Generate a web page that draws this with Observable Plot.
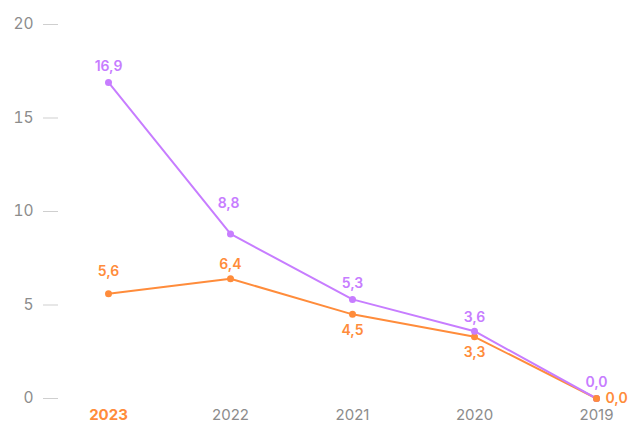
<!DOCTYPE html>
<html><head><meta charset="utf-8">
<script src="https://cdn.jsdelivr.net/npm/d3@7"></script>
<script src="https://cdn.jsdelivr.net/npm/@observablehq/plot@0.6"></script>
<style>
html,body{margin:0;padding:0;background:#fff;}
#chart{width:631px;height:425px;}
svg{font-family:Inter,"Noto Sans",sans-serif;}
</style></head>
<body><div id="chart"></div>
<script>
const years = ["2023","2022","2021","2020","2019"];
const purpleValues = [16.9, 8.8, 5.3, 3.6, 0.0];
const orangeValues = [5.6, 6.4, 4.5, 3.3, 0.0];
const yTicks = [0, 5, 10, 15, 20];

const PURPLE = "#c77dff";
const ORANGE = "#ff8c3b";
const GRAY = "#8c8c8c";
const fmt = v => v.toFixed(1).replace(".", ",");

const purple = years.map((y, i) => ({year: y, value: purpleValues[i]}));
const orange = years.map((y, i) => ({year: y, value: orangeValues[i]}));

const textStyle = {fontSize: 14, fontWeight: 600};
const lbl = d => fmt(d.value);
const xLabelStyle = {x: d => d, frameAnchor: "bottom", lineAnchor: "middle", dy: 17, fontSize: 15};

const chart = Plot.plot({
  width: 631,
  height: 425,
  marginLeft: 58,
  marginRight: 10,
  marginTop: 20,
  marginBottom: 27,
  x: {type: "point", domain: years, range: [106, 597], padding: 0, axis: null},
  y: {domain: [0, 20], range: [398, 24], axis: null},
  marks: [
    Plot.axisY(yTicks, {anchor: "left", label: null, tickSize: 15, tickPadding: 10, stroke: "#cfcfcf", fill: GRAY, fontSize: 15.5, strokeWidth: 1}),
    Plot.text(years.filter(y => y !== "2023"), {...xLabelStyle, fill: GRAY}),
    Plot.text(years.filter(y => y === "2023"), {...xLabelStyle, fill: ORANGE, fontWeight: 700}),
    Plot.line(orange, {x: "year", y: "value", stroke: ORANGE, strokeWidth: 2}),
    Plot.line(purple, {x: "year", y: "value", stroke: PURPLE, strokeWidth: 2}),
    Plot.dot(orange, {x: "year", y: "value", fill: ORANGE, r: 3.5}),
    Plot.dot(purple, {x: "year", y: "value", fill: PURPLE, r: 3.5}),
    Plot.dot(orange.filter(d => d.year === "2019"), {x: "year", y: "value", fill: ORANGE, r: 3.5}),
    Plot.text(purple.filter(d => d.year !== "2022" && d.year !== "2020"), {x: "year", y: "value", text: lbl, fill: PURPLE, dy: -16, ...textStyle}),
    Plot.text(purple.filter(d => d.year === "2022"), {x: "year", y: "value", text: lbl, fill: PURPLE, dy: -30, dx: -2, ...textStyle}),
    Plot.text(purple.filter(d => d.year === "2020"), {x: "year", y: "value", text: lbl, fill: PURPLE, dy: -14, ...textStyle}),
    Plot.text(orange.filter(d => d.year === "2023"), {x: "year", y: "value", text: lbl, fill: ORANGE, dy: -22, ...textStyle}),
    Plot.text(orange.filter(d => d.year === "2022"), {x: "year", y: "value", text: lbl, fill: ORANGE, dy: -14, ...textStyle}),
    Plot.text(orange.filter(d => d.year === "2021" || d.year === "2020"), {x: "year", y: "value", text: lbl, fill: ORANGE, dy: 16, ...textStyle}),
    Plot.text(orange.filter(d => d.year === "2019"), {x: "year", y: "value", text: lbl, fill: ORANGE, dx: 9, textAnchor: "start", ...textStyle})
  ]
});
document.getElementById("chart").appendChild(chart);
</script>
</body></html>
